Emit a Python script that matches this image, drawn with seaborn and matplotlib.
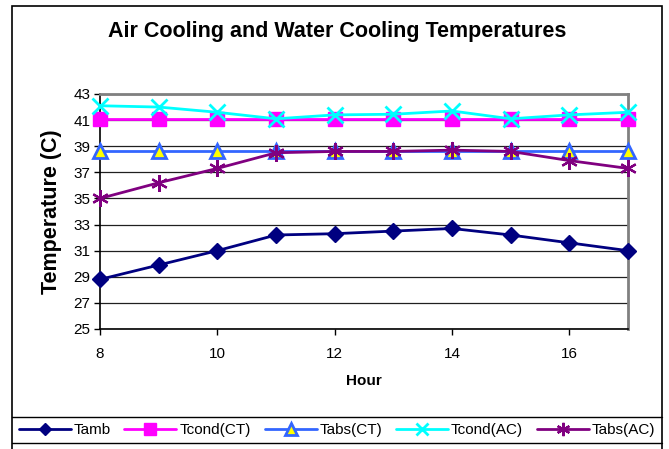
import matplotlib
matplotlib.use("Agg")
import matplotlib.pyplot as plt
from matplotlib.patches import Rectangle
from matplotlib.lines import Line2D
import seaborn as sns
import pandas as pd

hours = [8, 9, 10, 11, 12, 13, 14, 15, 16, 17]
tamb = [28.8, 29.9, 31.0, 32.2, 32.3, 32.5, 32.7, 32.2, 31.6, 31.0]
tcond_ct = [41.1] * 10
tabs_ct = [38.6] * 10
tcond_ac = [42.1, 42.0, 41.6, 41.1, 41.4, 41.45, 41.7, 41.1, 41.4, 41.6]
tabs_ac = [35.0, 36.2, 37.3, 38.5, 38.6, 38.6, 38.7, 38.6, 37.9, 37.3]

series_names = ["Tamb", "Tcond(CT)", "Tabs(CT)", "Tcond(AC)", "Tabs(AC)"]
series_values = [tamb, tcond_ct, tabs_ct, tcond_ac, tabs_ac]

styles = {
    "Tamb": dict(color="#000080", marker="D", ms=8, mfc="#000080", mec="#000080", mew=1),
    "Tcond(CT)": dict(color="#FF00FF", marker="s", ms=10, mfc="#FF00FF", mec="#FF00FF", mew=1),
    "Tabs(CT)": dict(color="#3366FF", marker="^", ms=10, mfc="#FFFF00", mec="#3366FF", mew=2),
    "Tcond(AC)": dict(color="#00FFFF", marker="x", ms=11, mfc="none", mec="#00FFFF", mew=2),
    "Tabs(AC)": dict(color="#800080", marker=(6, 2, 0), ms=12, mfc="none", mec="#800080", mew=1.6),
}

sns.set_theme(style="white")
plt.rcParams["font.family"] = ["Liberation Sans", "DejaVu Sans"]
plt.rcParams.update({"text.color": "black", "axes.labelcolor": "black",
                     "xtick.color": "black", "ytick.color": "black"})

W, H = 669, 449
fig = plt.figure(figsize=(W / 100, H / 100), dpi=100)

# outer chart frame
fig.patches.append(Rectangle((12 / W, -0.02), 650 / W, 1 - 6 / H + 0.02,
                             transform=fig.transFigure, fill=False,
                             edgecolor="black", lw=1.2, zorder=0))
# legend strip borders spanning the frame
for yy in (416.5, 443):
    fig.add_artist(Line2D([12 / W, 662 / W], [1 - yy / H, 1 - yy / H],
                          transform=fig.transFigure, color="black", lw=1))

ax = fig.add_axes([100 / W, 1 - 329 / H, 528 / W, 235 / H])

df = pd.DataFrame({"Hour": hours * len(series_names),
                   "Temp": sum(series_values, []),
                   "Series": [n for n in series_names for _ in hours]})

for name in series_names:
    st = styles[name]
    sns.lineplot(data=df[df["Series"] == name], x="Hour", y="Temp", ax=ax,
                 color=st["color"], lw=2, marker=st["marker"], markersize=st["ms"],
                 markerfacecolor=st["mfc"], markeredgecolor=st["mec"],
                 markeredgewidth=st["mew"], label=name, clip_on=False, zorder=3)

ax.set_xlim(8, 17)
ax.set_ylim(25, 43)
ax.set_xticks([8, 10, 12, 14, 16])
ax.set_yticks(range(25, 44, 2))
ax.grid(axis="y", color="#202020", lw=0.9)
ax.grid(axis="x", visible=False)
for side in ["top", "right"]:
    ax.spines[side].set_color("#808080")
    ax.spines[side].set_linewidth(2)
for side in ["left", "bottom"]:
    ax.spines[side].set_color("black")
    ax.spines[side].set_linewidth(1.2)
ax.tick_params(axis="both", which="major", labelsize=11, length=4, width=1,
               color="black", labelcolor="black", direction="out",
               bottom=True, left=True, pad=3)
ax.tick_params(axis="x", pad=9)

ax.set_xlabel("Hour", fontsize=11, fontweight="bold", labelpad=9, color="black")
ax.set_ylabel("Temperature (C)", fontsize=15.5, fontweight="bold", labelpad=8, color="black")
fig.text(337 / W, 1 - 32 / H, "Air Cooling and Water Cooling Temperatures",
         ha="center", va="center", fontsize=15.5, fontweight="bold", color="black")

ax.get_legend().remove()
handles, labels = ax.get_legend_handles_labels()
leg = fig.legend(handles, labels, ncol=5, loc="center", bbox_to_anchor=(337 / W, 1 - 430 / H),
                 frameon=False, fontsize=11, labelcolor="black",
                 handlelength=3.4, handletextpad=0.2, columnspacing=0.9,
                 borderpad=0.2, markerscale=0.8)

fig.savefig("out.png", dpi=100)
